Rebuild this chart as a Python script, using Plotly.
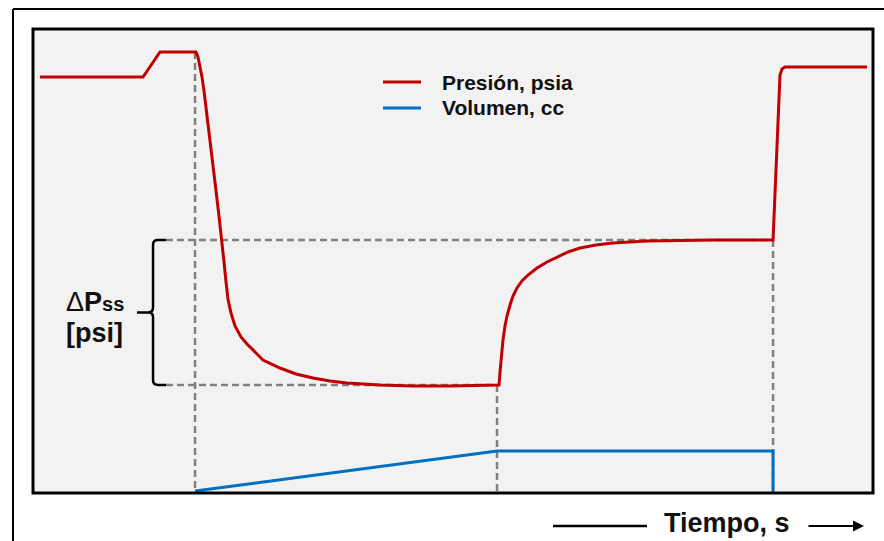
import plotly.graph_objects as go

# ---------------- data (time in s, pressure/volume in arbitrary chart units) ----------------
pres_t = [0.83, 13.10, 15.12, 19.40, 19.64, 19.88, 20.12, 20.36, 20.71, 21.07, 21.43, 21.79,
          22.14, 22.50, 22.74, 22.98, 23.21, 23.57, 24.05, 24.76, 25.48, 26.43, 27.38,
          29.40, 31.31, 33.33, 35.36, 37.38, 41.31, 45.24, 49.64, 55.36,
          55.48, 55.60, 55.71, 55.83, 55.95, 56.19, 56.43, 56.79, 57.14, 57.62, 58.21, 58.93,
          60.00, 61.19, 62.38, 63.69, 65.12, 67.02, 69.05, 71.07, 73.10, 76.98, 80.95, 88.10,
          88.81, 88.93, 89.17, 89.52, 99.29]
pres_v = [89.66, 89.66, 95.04, 95.04, 93.97, 92.03, 89.66, 86.64, 81.68, 76.29, 70.69, 65.09,
          59.70, 54.53, 49.78, 45.47, 41.81, 38.79, 35.99, 33.62, 32.11, 30.39, 28.66,
          26.94, 25.65, 24.78, 24.14, 23.71, 23.28, 23.06, 23.06, 23.28,
          23.28, 26.08, 28.66, 31.03, 32.97, 35.99, 38.15, 40.52, 42.46, 44.18, 45.69, 46.98,
          48.49, 49.78, 50.86, 51.94, 52.80, 53.45, 53.88, 54.09, 54.31, 54.42, 54.53, 54.53,
          87.93, 90.09, 91.38, 91.81, 91.81]

vol_t = [19.29, 55.24, 88.10, 88.10]
vol_v = [0.43, 9.05, 9.05, 0.0]

# key instants / levels used for the guide lines
t_start, t_mid, t_end = 19.29, 55.24, 88.10
p_peak, p_high, p_low = 95.04, 54.53, 23.28
guide_left = 15.83

legend_names = ["Presión, psia", "Volumen, cc"]
RED, BLUE, GREY = "#c00000", "#0070c0", "#808080"

W, H = 884, 541
ML, MR, MT, MB = 33, 11, 29, 48
PW, PH = W - ML - MR, H - MT - MB


def px(xp):
    return (xp - ML) / PW


def py(yp):
    return (H - MB - yp) / PH


fig = go.Figure()

dash = "7px,4px"
guides = [
    ([t_start, t_start], [p_peak, 0]),
    ([t_mid, t_mid], [p_low, 0]),
    ([t_end, t_end], [p_high, 0]),
    ([guide_left, t_end], [p_high, p_high]),
    ([guide_left, t_mid], [p_low, p_low]),
]
for gx, gy in guides:
    fig.add_trace(go.Scatter(x=gx, y=gy, mode="lines", showlegend=False, hoverinfo="skip",
                             line=dict(color=GREY, width=2.5, dash=dash)))

fig.add_trace(go.Scatter(x=vol_t, y=vol_v, mode="lines", name=legend_names[1],
                         line=dict(color=BLUE, width=3), showlegend=False))
fig.add_trace(go.Scatter(x=pres_t, y=pres_v, mode="lines", name=legend_names[0],
                         line=dict(color=RED, width=3), showlegend=False))

shapes = []
shapes.append(dict(type="rect", xref="paper", yref="paper", x0=0, x1=1, y0=0, y1=1,
                   line=dict(color="black", width=3), layer="above"))
shapes.append(dict(type="line", xref="paper", yref="paper", x0=px(13), x1=px(13),
                   y0=py(9), y1=py(545), line=dict(color="black", width=2)))
shapes.append(dict(type="line", xref="paper", yref="paper", x0=px(13), x1=px(890),
                   y0=py(9), y1=py(9), line=dict(color="black", width=2)))

# brace (in data coords)
bx, bo, bt = 14.29, 15.83, 12.38
mid = (p_high + p_low) / 2
r = 1.0
path = (f"M{bo},{p_high} L{bx + 0.6},{p_high} Q{bx},{p_high} {bx},{p_high - r} "
        f"L{bx},{mid + r} Q{bx},{mid} {bx - 0.6},{mid} L{bt},{mid} "
        f"M{bx - 0.6},{mid} Q{bx},{mid} {bx},{mid - r} "
        f"L{bx},{p_low + r} Q{bx},{p_low} {bx + 0.6},{p_low} L{bo},{p_low}")
shapes.append(dict(type="path", xref="x", yref="y", path=path,
                   line=dict(color="black", width=2.5)))

for i, c in enumerate([RED, BLUE]):
    yy = py(82 + 26 * i)
    shapes.append(dict(type="line", xref="paper", yref="paper", x0=px(383), x1=px(421),
                       y0=yy, y1=yy, line=dict(color=c, width=3)))

shapes.append(dict(type="line", xref="paper", yref="paper", x0=px(553), x1=px(647),
                   y0=py(526), y1=py(526), line=dict(color="black", width=2.5)))

font_b = "Liberation Sans, Arial, sans-serif"
annotations = []
for i, name in enumerate(legend_names):
    annotations.append(dict(xref="paper", yref="paper", x=px(440), y=py(82 + 26 * i),
                            xanchor="left", yanchor="middle", showarrow=False,
                            text=f"<b>{name}</b>",
                            font=dict(family=font_b, size=21, color="#111111")))
annotations.append(dict(xref="paper", yref="paper", x=px(64), y=py(302), xanchor="left",
                        yanchor="middle", showarrow=False,
                        text="<span style='font-weight:normal'>Δ</span><b>P</b>"
                             "<b><span style='font-size:20px'>ss</span></b>",
                        font=dict(family=font_b, size=27, color="#111111")))
annotations.append(dict(xref="paper", yref="paper", x=px(64), y=py(333), xanchor="left",
                        yanchor="middle", showarrow=False, text="<b>[psi]</b>",
                        font=dict(family=font_b, size=27, color="#111111")))
annotations.append(dict(xref="paper", yref="paper", x=px(727), y=py(523), xanchor="center",
                        yanchor="middle", showarrow=False, text="<b>Tiempo, s</b>",
                        font=dict(family=font_b, size=27, color="#111111")))
annotations.append(dict(xref="paper", yref="paper", x=px(864), y=py(526),
                        ax=-57, ay=0, axref="pixel", ayref="pixel",
                        showarrow=True, arrowhead=2, arrowsize=1, arrowwidth=2.2,
                        arrowcolor="black", text=""))

fig.update_layout(
    width=W, height=H,
    margin=dict(l=ML, r=MR, t=MT, b=MB),
    paper_bgcolor="white", plot_bgcolor="#f2f2f2",
    xaxis=dict(range=[0, 100], visible=False, fixedrange=True),
    yaxis=dict(range=[0, 100], visible=False, fixedrange=True),
    shapes=shapes, annotations=annotations, showlegend=False,
)

fig.write_html("out.html")
